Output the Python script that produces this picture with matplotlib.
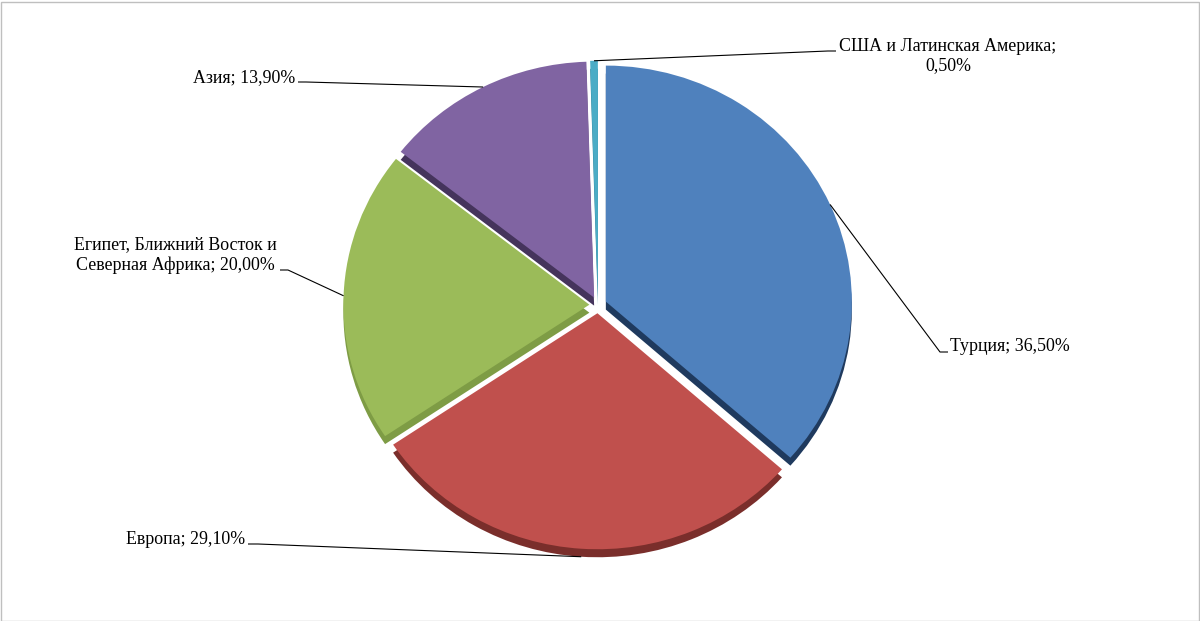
import matplotlib
matplotlib.use('Agg')
import matplotlib.pyplot as plt
from matplotlib.patches import Rectangle
import numpy as np

# ---- data ----
categories = ['Турция', 'Европа', 'Египет, Ближний Восток и\nСеверная Африка', 'Азия',
              'США и Латинская Америка']
values = [36.5, 29.1, 20.0, 13.9, 0.5]
label_sep = [' ', ' ', ' ', ' ', '\n']

# ---- style ----
colors = ['#4F81BD', '#C0504D', '#9BBB59', '#8064A2', '#4BACC6']
side_colors = ['#1F3A5E', '#7A2E2B', '#7E9C45', '#45345C', '#2E7F95']
W, H = 1200, 621
CX, CY = 598, 305          # pie centre in pixels (from top-left)
RX, RY = 246, 236          # pixel radii (slight 3D tilt)
explode = [0.035] * len(values)
depth_x, depth_y = 0.0, 8 / RY

plt.rcParams['font.family'] = ['Liberation Serif', 'DejaVu Serif']

fig = plt.figure(figsize=(W / 100, H / 100), dpi=100)
ax = fig.add_axes([0, 0, 1, 1])


def px(x, y):
    return (x - CX) / RX, (CY - y) / RY


# side walls (darker copies, shifted down)
ax.pie(values, colors=side_colors, startangle=90, counterclock=False,
       explode=explode, center=(depth_x, -depth_y), wedgeprops=dict(linewidth=0))
wedges, _ = ax.pie(values, colors=colors, startangle=90, counterclock=False,
                   explode=explode, center=(0, 0), wedgeprops=dict(linewidth=0))

ax.set_aspect('auto')
ax.set_xlim(-CX / RX, (W - CX) / RX)
ax.set_ylim(-(H - CY) / RY, CY / RY)
ax.axis('off')

# label layout: text pos (px), ha, leader elbow and end (px)
layout = [
    dict(t=(950, 346), ha='left', pts=[(940, 352), (948, 352)]),
    dict(t=(245, 540), ha='right', pts=[(258, 544), (248, 544)]),
    dict(t=(175, 255), ha='center', pts=[(288, 270), (280, 270)]),
    dict(t=(295, 78), ha='right', pts=[(306, 82), (298, 82)]),
    dict(t=(948, 56), ha='center', pts=[(828, 51), (836, 51)]),
]

for w, name, v, sep, lay in zip(wedges, categories, values, label_sep, layout):
    mid = np.deg2rad((w.theta1 + w.theta2) / 2)
    ax_x = w.center[0] + w.r * np.cos(mid)
    ax_y = w.center[1] + w.r * np.sin(mid)
    if np.sin(mid) < -0.5:
        ax_y -= depth_y
    pts = [(ax_x, ax_y)] + [px(*p) for p in lay['pts']]
    xs, ys = zip(*pts)
    ax.plot(xs, ys, color='black', lw=0.8, solid_capstyle='butt', zorder=5)
    txt = f"{name};{sep}{v:.2f}%".replace('.', ',')
    tx, ty = px(*lay['t'])
    ax.text(tx, ty, txt, ha=lay['ha'], va='center', fontsize=12.9,
            color='black', multialignment='center', linespacing=1.2, zorder=6)

fig.patches.append(Rectangle((0.5 / W, 0.5 / H), 1 - 2 / W, 1 - 2 / H,
                             transform=fig.transFigure, fill=False,
                             edgecolor='#BFBFBF', linewidth=1))

fig.savefig('out.png', dpi=100, facecolor='white')
